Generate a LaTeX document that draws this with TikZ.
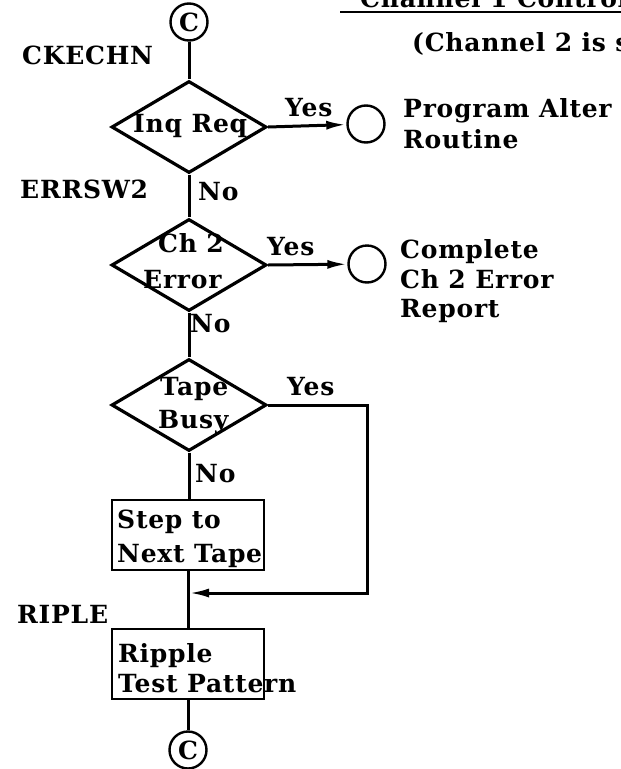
\documentclass[tikz,border=0pt]{standalone}
\usepackage{fontspec}
\setmainfont{DejaVu Serif}[BoldFont=DejaVu Serif Bold, LetterSpace=3]
\usetikzlibrary{shapes.geometric,arrows.meta}

\begin{document}
\begin{tikzpicture}[x=1pt,y=-1pt,
  font=\bfseries\fontsize{25}{30}\selectfont,
  decision/.style={diamond, draw, line width=3.2pt, inner sep=0pt,
    minimum width=155pt, minimum height=92pt},
  process/.style={rectangle, draw, line width=2pt, inner sep=0pt,
    minimum width=152pt, minimum height=70pt},
  connector/.style={circle, draw, line width=2.4pt, inner sep=0pt, minimum size=37pt},
  flow/.style={line width=3pt},
  tip/.style={-{Latex[length=20pt,width=9pt]}},
  txt/.style={anchor=base west, inner sep=0pt}]

\useasboundingbox (0,0) rectangle (621,769);

% heading
\node[txt] (head) at (360,7) {Channel 1 Control};
\draw[line width=2pt] (340,12) -- (625,12);
\node[txt] (note) at (412,51) {(Channel 2 is s};

% main column
\node[connector] (ctop) at (189,22) {C};
\node[decision] (inq) at (189,127) {};
\node[decision] (err) at (189,265) {};
\node[decision] (busy) at (189,405) {};
\node[process] (step) at (188,535) {};
\node[process] (ripple) at (188,663.5) {};
\node[connector] (cbot) at (188,750) {C};

% off-page exits
\node[connector] (alter) at (366,124) {};
\node[connector] (report) at (367,264) {};

% entry labels
\node[txt] (l1) at (22,64) {CKECHN};
\node[txt] (l2) at (20,198) {ERRSW2};
\node[txt] (l3) at (17,623) {RIPLE};

% texts inside shapes
\node[txt] (t1) at (133,132) {Inq Req};
\node[txt] (t2) at (158,252) {Ch 2};
\node[txt] (t3) at (143,288) {Error};
\node[txt] (t4) at (160,395) {Tape};
\node[txt] (t5) at (158,428) {Busy};
\node[txt] (t6) at (117,528) {Step to};
\node[txt] (t7) at (117,562) {Next Tape};
\node[txt] (t8) at (118,662) {Ripple};
\node[txt] (t9) at (118,692) {Test Pattern};

% branch labels
\node[txt] (y1) at (285,116) {Yes};
\node[txt] (y2) at (267,255) {Yes};
\node[txt] (y3) at (287,395) {Yes};
\node[txt] (n1) at (198,200) {No};
\node[txt] (n2) at (190,332) {No};
\node[txt] (n3) at (195,482) {No};

% exit descriptions
\node[txt] (r1) at (403,117) {Program Alter};
\node[txt] (r2) at (403,148) {Routine};
\node[txt] (r3) at (400,258) {Complete};
\node[txt] (r4) at (400,288) {Ch 2 Error};
\node[txt] (r5) at (400,317) {Report};

% connectors
\draw[flow] (ctop) -- (inq.north);
\draw[flow] (inq.south) -- (err.north);
\draw[flow] (err.south) -- (busy.north);
\draw[flow] (busy.south) -- (step.north -| busy.south);
\draw[flow] (step) -- (ripple);
\draw[flow] (ripple) -- (cbot);
\draw[flow,tip] (inq.east) -- (alter);
\draw[flow,tip] (err.east) -- (report);
\coordinate (corner) at (367,593);
\coordinate (merge) at (189,593);
\draw[flow,tip] (busy.east) -| (corner) -- (merge);
\end{tikzpicture}
\end{document}
